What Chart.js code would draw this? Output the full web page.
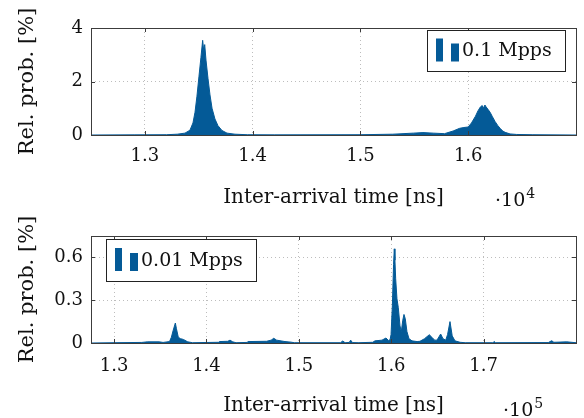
<!DOCTYPE html>
<html>
<head>
<meta charset="utf-8">
<script src="https://cdn.jsdelivr.net/npm/chart.js@4.4.1/dist/chart.umd.min.js"></script>
<style>
  html, body { margin: 0; padding: 0; background: #ffffff; }
  #wrap { position: relative; width: 584px; height: 418px; }
  .plot { position: absolute; left: 0; width: 584px; }
</style>
</head>
<body>
<div id="wrap">
  <div class="plot" style="top:0;height:210px"><canvas id="topChart"></canvas></div>
  <div class="plot" style="top:210px;height:208px"><canvas id="bottomChart"></canvas></div>
</div>
<script>
// Inter-arrival time histograms

// 0.1 Mpps (x in ns)
const topTimes = [12500, 12900, 13200, 13300, 13372, 13418, 13446, 13465, 13483, 13502,
  13520, 13536, 13546, 13555, 13567, 13586, 13604, 13623, 13650, 13678, 13715, 13762,
  13836, 13950, 14200, 15000, 15300, 15490, 15580, 15675, 15780, 15860, 15920, 15960,
  16000, 16030, 16067, 16090, 16113, 16130, 16140, 16155, 16166, 16185, 16203, 16225,
  16250, 16275, 16296, 16320, 16342, 16388, 16450, 16600, 17000];
const topProb = [0.0, 0.005, 0.01, 0.03, 0.07, 0.18, 0.45, 0.85, 1.45, 2.2,
  2.9, 3.54, 3.15, 3.38, 2.8, 2.1, 1.5, 1.0, 0.6, 0.35, 0.17, 0.07,
  0.03, 0.01, 0.005, 0.01, 0.03, 0.07, 0.09, 0.07, 0.05, 0.15, 0.25, 0.28,
  0.3, 0.45, 0.7, 0.9, 1.05, 1.1, 1.0, 1.12, 1.05, 0.95, 0.85, 0.68,
  0.5, 0.35, 0.25, 0.15, 0.1, 0.04, 0.02, 0.01, 0.0];
const topXTicks = [13000, 14000, 15000, 16000];
const topYTicks = [0, 2, 4];

// 0.01 Mpps (x in ns)
const bottomTimes = [127500, 130000, 133000, 133600, 134900, 135300, 136000, 136200, 136400,
  136630, 136750, 136950, 137200, 137500, 137970, 138500, 141300, 141400, 142300, 142550,
  142840, 143200, 144400, 144500, 146500, 147000, 147280, 147600, 148500, 149150, 149500,
  154500, 154750, 155000, 155450, 155610, 155800, 156500, 158000, 158240, 159000, 159430,
  159700, 159870, 159980, 160120, 160250, 160330, 160400, 160480, 160620, 160760, 160950,
  161090, 161250, 161380, 161520, 161700, 161920, 162250, 162800, 163110, 163600, 164120,
  164400, 164700, 164950, 165350, 165600, 165900, 166100, 166360, 166600, 166900, 167450,
  168000, 171000, 171160, 171300, 177000, 177370, 177600, 179000, 180000];
const bottomProb = [0, 0.002, 0.004, 0.008, 0.008, 0.004, 0.01, 0.04, 0.09,
  0.14, 0.1, 0.04, 0.03, 0.025, 0.008, 0.002, 0.005, 0.01, 0.012, 0.02,
  0.008, 0.002, 0.004, 0.01, 0.012, 0.02, 0.033, 0.02, 0.01, 0.006, 0.002,
  0.002, 0.014, 0.002, 0.004, 0.02, 0.003, 0.002, 0.005, 0.015, 0.02, 0.035,
  0.018, 0.022, 0.06, 0.26, 0.55, 0.66, 0.58, 0.45, 0.31, 0.25, 0.12,
  0.08, 0.16, 0.2, 0.17, 0.08, 0.03, 0.015, 0.01, 0.012, 0.03, 0.058,
  0.04, 0.02, 0.02, 0.063, 0.03, 0.02, 0.06, 0.15, 0.05, 0.015, 0.005,
  0.002, 0.002, 0.01, 0.002, 0.003, 0.016, 0.005, 0.008, 0.002];
const bottomXTicks = [130000, 140000, 150000, 160000, 170000];
const bottomYTicks = [0, 0.3, 0.6];

const FONT = "'DejaVu Serif', 'Liberation Serif', serif";
const BLUE = "#045a97";
const GRID = "#bdbdbd";
const FRAME = "#3c3c3c";

// inner tick marks, frame, legend box with the two-bar icon, exponent note
const decorPlugin = {
  id: "decor",
  afterDraw(chart, args, opts) {
    const ctx = chart.ctx;
    const area = chart.chartArea;
    ctx.save();

    ctx.strokeStyle = FRAME;
    ctx.lineWidth = 1;
    const xs = chart.scales.x, ys = chart.scales.y;
    opts.xTicks.forEach((v) => {
      const px = Math.round(xs.getPixelForValue(v)) + 0.5;
      ctx.beginPath();
      ctx.moveTo(px, area.bottom); ctx.lineTo(px, area.bottom - 4);
      ctx.moveTo(px, area.top); ctx.lineTo(px, area.top + 4);
      ctx.stroke();
    });
    opts.yTicks.forEach((v) => {
      const py = Math.round(ys.getPixelForValue(v)) + 0.5;
      ctx.beginPath();
      ctx.moveTo(area.left, py); ctx.lineTo(area.left + 4, py);
      ctx.moveTo(area.right, py); ctx.lineTo(area.right - 4, py);
      ctx.stroke();
    });

    ctx.strokeRect(Math.round(area.left) + 0.5, Math.round(area.top) + 0.5,
      Math.round(area.right - area.left), Math.round(area.bottom - area.top));

    // legend
    const b = opts.legendBox;
    ctx.fillStyle = "#ffffff";
    ctx.fillRect(b.x, b.y, b.w, b.h);
    ctx.strokeStyle = "#222222";
    ctx.strokeRect(b.x + 0.5, b.y + 0.5, b.w, b.h);
    ctx.fillStyle = BLUE;
    const iy = b.y + b.h / 2;
    ctx.fillRect(b.x + 9, iy - 12, 7, 23);
    ctx.fillRect(b.x + 24, iy - 7, 8, 18);
    ctx.fillStyle = "#111111";
    ctx.font = "19px " + FONT;
    ctx.textBaseline = "middle";
    ctx.textAlign = "left";
    ctx.fillText(opts.label, b.x + 35, iy + 1);

    // x 10^n note
    ctx.font = "19px " + FONT;
    ctx.textBaseline = "alphabetic";
    ctx.fillText("\u00b710", opts.expX, opts.expY);
    const w = ctx.measureText("\u00b710").width;
    ctx.font = "14px " + FONT;
    ctx.fillText(opts.exp, opts.expX + w + 1, opts.expY - 8);
    ctx.restore();
  },
};

function makeChart(id, times, probs, xMin, xMax, yMax, xTicks, yTicks, divisor, decor, xHeight) {
  const points = times.map((t, i) => ({ x: t, y: probs[i] }));
  return new Chart(document.getElementById(id).getContext("2d"), {
    type: "line",
    data: {
      datasets: [
        {
          label: decor.label,
          data: points,
          borderColor: BLUE,
          backgroundColor: BLUE,
          borderWidth: 1,
          fill: "origin",
          pointRadius: 0,
          tension: 0,
        },
      ],
    },
    options: {
      responsive: true,
      maintainAspectRatio: false,
      animation: false,
      layout: { padding: { top: decor.padTop, right: 8, left: 0, bottom: 0 } },
      plugins: {
        legend: { display: false },
        tooltip: { enabled: false },
        decor: decor,
      },
      scales: {
        x: {
          type: "linear",
          min: xMin,
          max: xMax,
          afterBuildTicks: (scale) => {
            scale.ticks = xTicks.map((v) => ({ value: v }));
          },
          afterFit: (scale) => {
            scale.height = xHeight;
          },
          grid: { color: GRID, lineWidth: 1, drawTicks: false },
          border: { display: false, dash: [1, 3] },
          ticks: {
            padding: decor.tickPad,
            maxRotation: 0,
            color: "#111111",
            font: { family: FONT, size: 18 },
            callback: (v) => (v / divisor).toFixed(1),
          },
          title: {
            display: true,
            text: "Inter-arrival time [ns]",
            color: "#111111",
            font: { family: FONT, size: 20 },
            padding: { top: decor.titlePad, bottom: 0 },
          },
        },
        y: {
          min: 0,
          max: yMax,
          afterBuildTicks: (scale) => {
            scale.ticks = yTicks.map((v) => ({ value: v }));
          },
          afterFit: (scale) => {
            scale.width = 91;
          },
          grid: { color: GRID, lineWidth: 1, drawTicks: false },
          border: { display: false, dash: [1, 3] },
          ticks: {
            padding: 8,
            color: "#111111",
            font: { family: FONT, size: 18 },
            callback: (v) => String(v),
          },
          title: {
            display: true,
            text: "Rel. prob. [%]",
            color: "#111111",
            font: { family: FONT, size: 21 },
            padding: { top: 15, bottom: 0 },
          },
        },
      },
    },
    plugins: [decorPlugin],
  });
}

const topChart = makeChart("topChart", topTimes, topProb, 12500, 17000, 4,
  topXTicks, topYTicks, 10000,
  { label: "0.1 Mpps", legendBox: { x: 427, y: 30, w: 138, h: 41 }, exp: "4",
    expX: 495, expY: 206, xTicks: topXTicks, yTicks: topYTicks, padTop: 28,
    tickPad: 11, titlePad: 13 }, 75);

const bottomChart = makeChart("bottomChart", bottomTimes, bottomProb, 127500, 180000, 0.75,
  bottomXTicks, bottomYTicks, 100000,
  { label: "0.01 Mpps", legendBox: { x: 106, y: 29, w: 150, h: 42 }, exp: "5",
    expX: 503, expY: 206, xTicks: bottomXTicks, yTicks: bottomYTicks, padTop: 26,
    tickPad: 13, titlePad: 10 }, 75);
</script>
</body>
</html>
